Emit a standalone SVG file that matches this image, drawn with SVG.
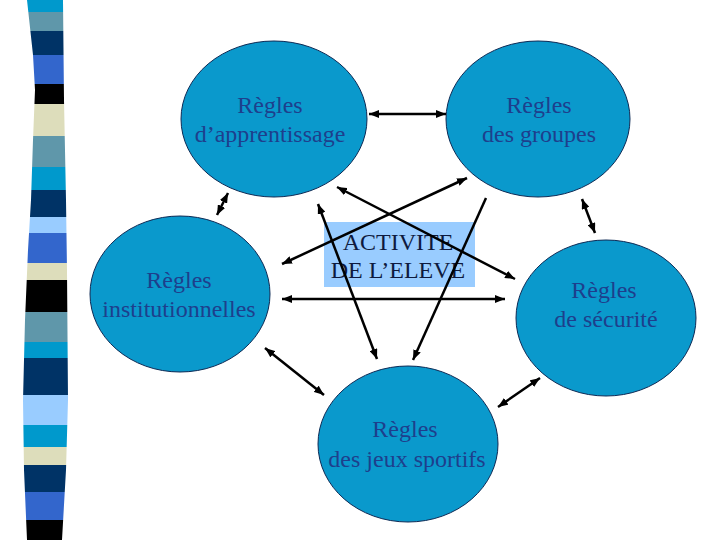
<svg xmlns="http://www.w3.org/2000/svg" width="720" height="540" viewBox="0 0 720 540">
  <defs>
    <clipPath id="stripClip">
      <polygon points="27,0 63,0 64,100 66,200 67,270 68,400 66,470 62,540 27,540 24,470 23,400 25,320 28,250 31,200 33,140 35,90 33,55"/>
    </clipPath>
    <marker id="ah" viewBox="0 0 10 8" refX="10" refY="4" markerWidth="10" markerHeight="8" markerUnits="userSpaceOnUse" orient="auto-start-reverse">
      <path d="M0,0 L10,4 L0,8 z" fill="#000"/>
    </marker>
  </defs>
  <style>
    .node ellipse { fill: #0a99cc; stroke: #0d2a55; stroke-width: 1; }
    .lbl { font-family: "Liberation Serif", "Times New Roman", serif; font-size: 24px; fill: #1e3f8c; text-anchor: middle; }
    .ctr { font-family: "Liberation Serif", "Times New Roman", serif; font-size: 24px; fill: #0e1a3e; text-anchor: middle; }
    .conn line { stroke: #000; stroke-width: 2.5; }
    .dbl { marker-start: url(#ah); marker-end: url(#ah); }
    .sgl { marker-end: url(#ah); }
  </style>
  <rect width="720" height="540" fill="#fff"/>

  <g id="strip" clip-path="url(#stripClip)">
    <rect x="15" y="0" width="60" height="12" fill="#0099cc"/>
    <rect x="15" y="12" width="60" height="19" fill="#5f97aa"/>
    <rect x="15" y="31" width="60" height="24" fill="#003366"/>
    <rect x="15" y="55" width="60" height="29" fill="#3366cc"/>
    <rect x="15" y="84" width="60" height="20" fill="#000000"/>
    <rect x="15" y="104" width="60" height="32" fill="#ddddbb"/>
    <rect x="15" y="136" width="60" height="31" fill="#5f97aa"/>
    <rect x="15" y="167" width="60" height="23" fill="#0099cc"/>
    <rect x="15" y="190" width="60" height="27" fill="#003366"/>
    <rect x="15" y="217" width="60" height="16" fill="#99ccff"/>
    <rect x="15" y="233" width="60" height="30" fill="#3366cc"/>
    <rect x="15" y="263" width="60" height="17" fill="#ddddbb"/>
    <rect x="15" y="280" width="60" height="32" fill="#000000"/>
    <rect x="15" y="312" width="60" height="30" fill="#5f97aa"/>
    <rect x="15" y="342" width="60" height="16" fill="#0099cc"/>
    <rect x="15" y="358" width="60" height="37" fill="#003366"/>
    <rect x="15" y="395" width="60" height="30" fill="#99ccff"/>
    <rect x="15" y="425" width="60" height="22" fill="#0099cc"/>
    <rect x="15" y="447" width="60" height="18" fill="#ddddbb"/>
    <rect x="15" y="465" width="60" height="27" fill="#003366"/>
    <rect x="15" y="492" width="60" height="28" fill="#3366cc"/>
    <rect x="15" y="520" width="60" height="20" fill="#000000"/>
  </g>

  <g id="n-apprentissage" class="node">
    <ellipse cx="274" cy="119" rx="93" ry="78"/>
    <text class="lbl" x="270" y="113">Règles</text>
    <text class="lbl" x="270" y="142">d’apprentissage</text>
  </g>
  <g id="n-groupes" class="node">
    <ellipse cx="538" cy="119" rx="92" ry="78"/>
    <text class="lbl" x="539" y="113">Règles</text>
    <text class="lbl" x="539" y="142">des groupes</text>
  </g>
  <g id="n-institutionnelles" class="node">
    <ellipse cx="180" cy="294" rx="90" ry="78"/>
    <text class="lbl" x="179" y="288">Règles</text>
    <text class="lbl" x="179" y="317">institutionnelles</text>
  </g>
  <g id="n-securite" class="node">
    <ellipse cx="606" cy="318" rx="90" ry="78"/>
    <text class="lbl" x="604" y="298">Règles</text>
    <text class="lbl" x="606" y="327">de sécurité</text>
  </g>
  <g id="n-jeux" class="node">
    <ellipse cx="408" cy="444" rx="90" ry="78"/>
    <text class="lbl" x="405" y="437">Règles</text>
    <text class="lbl" x="407" y="467">des jeux sportifs</text>
  </g>
  <g id="n-activite">
    <rect x="324" y="222" width="151" height="65" fill="#99ccff"/>
    <text class="ctr" x="398" y="250">ACTIVITE</text>
    <text class="ctr" x="398" y="278">DE L’ELEVE</text>
  </g>

  <g id="connectors" class="conn">
    <line class="dbl" x1="369" y1="114" x2="446" y2="114"/>
    <line class="dbl" x1="228" y1="193" x2="217" y2="215"/>
    <line class="dbl" x1="582" y1="199" x2="595" y2="233"/>
    <line class="dbl" x1="540" y1="378" x2="498" y2="407"/>
    <line class="dbl" x1="265" y1="348" x2="324" y2="395"/>
    <line class="dbl" x1="282" y1="264" x2="467" y2="178"/>
    <line class="dbl" x1="337" y1="187" x2="515" y2="279"/>
    <line class="dbl" x1="318" y1="204" x2="377" y2="359"/>
    <line class="sgl" x1="486" y1="198" x2="413" y2="360"/>
    <line class="dbl" x1="282" y1="299" x2="505" y2="299"/>
  </g>
</svg>
